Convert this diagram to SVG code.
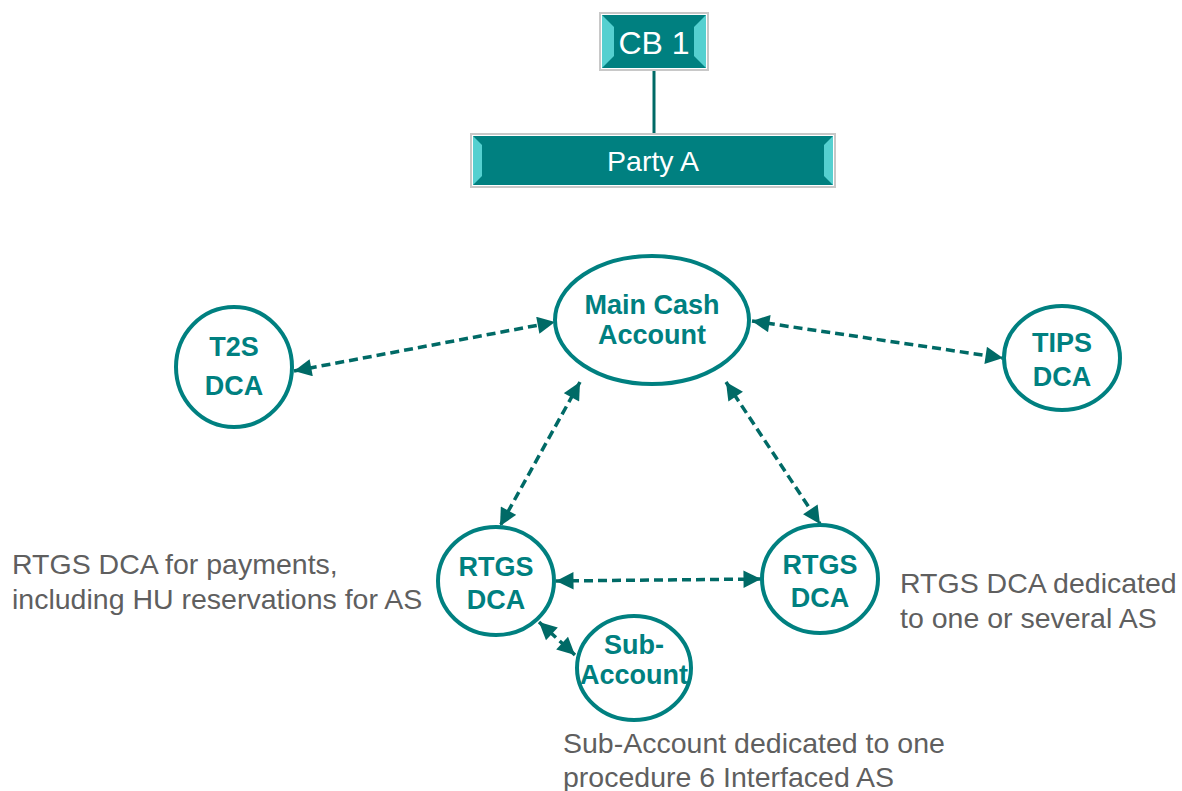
<svg xmlns="http://www.w3.org/2000/svg" width="1182" height="791" viewBox="0 0 1182 791">
<defs>
<style>
.acc{fill:#fff;stroke:#008080;stroke-width:4}
.lbl{font-family:"Liberation Sans",Arial,sans-serif;font-weight:bold;font-size:27px;fill:#008080;text-anchor:middle}
.note{font-family:"Liberation Sans",Arial,sans-serif;font-size:28.5px;fill:#5f5f5f}
.edge{stroke:#006a66;stroke-width:3.5;stroke-dasharray:9 5;fill:none;marker-start:url(#ah);marker-end:url(#ah)}
.boxt{font-family:"Liberation Sans",Arial,sans-serif;fill:#fff;text-anchor:middle}
</style>
<marker id="ah" viewBox="0 0 10 10" refX="10" refY="5" markerWidth="5.5" markerHeight="5" orient="auto-start-reverse" markerUnits="strokeWidth">
<path d="M0,0 L10,5 L0,10 z" fill="#006a66"/>
</marker>
</defs>
<g id="connectors">
<line x1="654" y1="69" x2="654" y2="135" stroke="#006a66" stroke-width="3"/>
<line class="edge" x1="294" y1="371" x2="555" y2="322"/>
<line class="edge" x1="752" y1="321" x2="1003" y2="358"/>
<line class="edge" x1="580" y1="382" x2="500" y2="526"/>
<line class="edge" x1="726" y1="382" x2="820" y2="524"/>
<line class="edge" x1="556" y1="581" x2="761" y2="579"/>
<line class="edge" x1="539" y1="622" x2="575" y2="655"/>
</g>
<g id="cb1">
<rect x="600" y="13" width="108" height="57" fill="#fff" stroke="#c8c8c8" stroke-width="2"/>
<rect x="602" y="15" width="104" height="53" fill="#008080"/>
<polygon points="602,15 614,27 614,56 602,68" fill="#55d0d0"/>
<polygon points="706,15 694,27 694,56 706,68" fill="#55d0d0"/>
<text class="boxt" x="654" y="54" font-size="32">CB 1</text>
</g>
<g id="partyA">
<rect x="471" y="134" width="364" height="53" fill="#fff" stroke="#c8c8c8" stroke-width="2"/>
<rect x="473" y="136" width="360" height="49" fill="#008080"/>
<polygon points="473,136 482,145 482,176 473,185" fill="#55d0d0"/>
<polygon points="833,136 824,145 824,176 833,185" fill="#55d0d0"/>
<text class="boxt" x="653" y="171" font-size="28.5">Party A</text>
</g>
<g id="main">
<ellipse class="acc" cx="652" cy="320" rx="97" ry="64"/>
<text class="lbl" x="652" y="314">Main Cash</text>
<text class="lbl" x="652" y="344">Account</text>
</g>
<g id="t2s">
<ellipse class="acc" cx="234" cy="367" rx="58" ry="60"/>
<text class="lbl" x="234" y="356">T2S</text>
<text class="lbl" x="234" y="395">DCA</text>
</g>
<g id="tips">
<ellipse class="acc" cx="1062" cy="358" rx="58" ry="52"/>
<text class="lbl" x="1062" y="352">TIPS</text>
<text class="lbl" x="1062" y="386">DCA</text>
</g>
<g id="rtgs1">
<ellipse class="acc" cx="496" cy="581" rx="58" ry="54"/>
<text class="lbl" x="496" y="576">RTGS</text>
<text class="lbl" x="496" y="609">DCA</text>
</g>
<g id="rtgs2">
<ellipse class="acc" cx="820" cy="579" rx="58" ry="54"/>
<text class="lbl" x="820" y="574">RTGS</text>
<text class="lbl" x="820" y="607">DCA</text>
</g>
<g id="sub">
<ellipse class="acc" cx="634" cy="668" rx="57" ry="52"/>
<text class="lbl" x="634" y="654">Sub-</text>
<text class="lbl" x="634" y="684">Account</text>
</g>
<g id="notes">
<text class="note" x="12" y="574">RTGS DCA for payments,</text>
<text class="note" x="12" y="609">including HU reservations for AS</text>
<text class="note" x="900" y="593">RTGS DCA dedicated</text>
<text class="note" x="900" y="628">to one or several AS</text>
<text class="note" x="563" y="753">Sub-Account dedicated to one</text>
<text class="note" x="563" y="787">procedure 6 Interfaced AS</text>
</g>
</svg>
